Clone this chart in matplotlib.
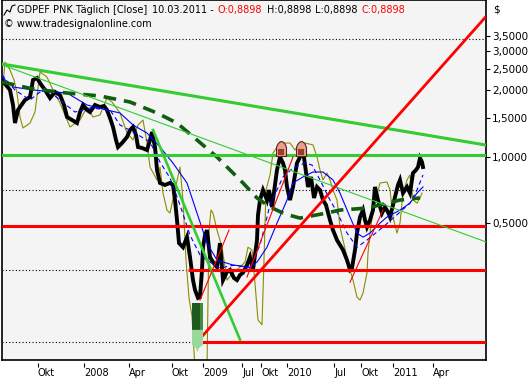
import matplotlib
matplotlib.use("Agg")
import matplotlib.pyplot as plt
from matplotlib.path import Path
from matplotlib.ticker import FixedLocator, NullLocator, NullFormatter

# ---------------- data (bar index on x, price in $ on y) ----------------
black_x = [2,6,10,13,15,18,20,25,30,33,37,40,45,50,55,60,64,67,72,77,80,83,87,90,95,100,104,107,110,113,
           116,118,122,127,130,133,136,138,142,147,150,152,155,157,160,165,170,173,175,177,179,183,187,190,193,195,198,200,202,203,
           205,207,210,213,217,220,223,227,230,234,237,240,243,247,250,253,255,257,258,260,263,265,267,269,272,275,277,280,283,285,
           287,290,293,297,300,303,305,308,311,314,317,320,323,326,330,333,337,340,343,347,350,352,355,357,360,363,365,367,370,373,
           375,378,382,385,388,390,395,398,400,403,407,410,413,416,418,420,422,423]
black_v = [2.221,2.108,2.002,1.713,1.420,1.626,1.677,1.804,1.861,2.221,2.268,2.153,2.002,1.842,1.961,1.900,1.713,1.512,1.465,1.420,
           1.592,1.713,1.626,1.592,1.713,1.677,1.695,1.626,1.496,1.362,1.190,1.106,1.153,1.227,1.320,1.362,1.253,1.106,1.095,1.072,
           1.190,1.293,1.106,0.871,0.761,0.745,0.761,0.745,0.637,0.517,0.407,0.390,0.433,0.352,0.277,0.250,0.230,0.232,0.308,0.390,
           0.442,0.466,0.352,0.334,0.317,0.407,0.277,0.302,0.308,0.283,0.277,0.292,0.299,0.324,0.352,0.308,0.360,0.420,0.545,0.637,
           0.707,0.671,0.637,0.707,0.592,0.745,0.871,0.997,0.936,0.871,0.730,0.637,0.730,0.936,0.997,1.072,0.917,0.730,0.810,0.651,
           0.730,0.707,0.637,0.605,0.517,0.466,0.420,0.399,0.379,0.341,0.308,0.314,0.379,0.452,0.534,0.574,0.517,0.481,0.517,0.574,
           0.730,0.637,0.556,0.592,0.562,0.534,0.657,0.745,0.785,0.685,0.730,0.685,0.844,0.871,0.898,0.986,0.946,0.898]

olive_x = [2,5,10,14,17,20,23,30,35,40, 47,53,60,70,80,87,93,100,107,112,
           120,127,133,138,143,147,150,157,160,163, 167,170,175,180,183,186,189,192,195,207,
           209,211,213,217,222,227,233,240,245,248, 252,255,258,262,264,266,270,273,280,290,
           295,300,305,313,317,320,323,327,330,333, 337,340,343,347,350,353,357,360,363,367,
           368,370,373,380,387,390,393,397,400,403, 407,410,413,417,420,422]
olive_v = [1.861,2.679,2.465,2.221,1.940,1.512,1.348,1.420,1.592,2.414, 2.292,2.002,1.748,1.362,1.465,1.677,1.512,1.544,1.842,1.767,
           1.576,1.279,1.190,1.391,1.465,1.153,0.898,0.785,0.898,0.685, 0.574,0.556,0.707,0.898,0.637,0.341,0.230,0.190,0.110,0.110,
           0.466,0.574,0.556,0.466,0.390,0.277,0.299,0.317,0.334,0.390, 0.379,0.268,0.183,0.174,0.341,0.707,0.827,1.039,1.153,1.153,
           1.072,1.153,1.153,1.130,0.997,0.871,0.785,0.844,0.785,0.707, 0.637,0.481,0.420,0.352,0.308,0.277,0.232,0.225,0.242,0.299,
           0.367,0.452,0.574,0.761,0.769,0.707,0.534,0.452,0.501,0.685, 0.785,0.827,0.637,0.617,0.651,0.685]

blue_x = [2,13,33,67,87,107,120,133,147,160,173,187,197,207,217,233,250,257,267,277,287,293,303,313,323,333,340,350,357,363,
          370,380,387,400,410,417,423]
blue_v = [2.292,2.066,2.002,1.940,1.713,1.626,1.576,1.391,1.279,1.106,0.936,0.761,0.556,0.407,0.341,0.324,0.317,0.334,0.390,0.501,
          0.637,0.761,0.810,0.853,0.853,0.785,0.685,0.534,0.452,0.433,0.452,0.501,0.534,0.574,0.617,0.685,0.730]

bluedash_x = [2,15,30,45,60,75,90,110,120,135,150,160,170,180,190,200,210,220,235,250,260,270,283,293,305,312,320,330,337,347,
              357,367,383,400,410,417,423]
bluedash_v = [2.340,2.002,1.804,2.044,1.804,1.592,1.660,1.626,1.391,1.279,1.166,0.946,0.802,0.605,0.442,0.360,0.334,0.314,0.324,0.314,
              0.399,0.605,0.810,0.889,0.936,0.917,0.785,0.637,0.562,0.452,0.390,0.420,0.481,0.562,0.617,0.707,0.827]

ma_long_x = [2,33,67,100,130,157,177,197,217,230,243,257,270,285,300,327,340,367,400,420]
ma_long_v = [2.176,2.023,1.940,1.881,1.767,1.576,1.420,1.190,0.997,0.871,0.761,0.651,0.593,0.551,0.528,0.557,0.574,0.586,0.637,0.651]

# trend lines: (x0, v0, x1, v1)
green_thick = (2, 2.624, 486, 1.129)
green_thin = (2, 2.600, 486, 0.412)
green_steep = (153, 1.320, 240, 0.149)
red_diag = (198, 0.147, 486, 4.30)
red_thin = [(200, 0.225, 229, 0.466), (247, 0.286, 293, 0.997), (350, 0.271, 383, 0.574)]

# horizontal levels
green_level = 1.023
red_levels = [(2, 0.487), (188, 0.308), (198, 0.1454)]
dotted_levels = [3.40, 0.707, 0.308, 0.1454]

# peak markers and highlight
peak_x = [281, 301]
peak_v = [1.078, 1.078]
box_x = [192, 203]
box_dark = (0.218, 0.165)
box_light_tip = (197.5, 0.131)
box_light_mid = 0.141

# axes
yticks = [0.5, 1.0, 1.5, 2.0, 2.5, 3.0, 3.5]
ytick_labels = ["0,5000", "1,0000", "1,5000", "2,0000", "2,5000", "3,0000", "3,5000"]
xtick_pos = [38, 84, 129, 172, 203, 242, 261, 287, 334, 361, 393, 433]
xtick_labels = ["Okt", "2008", "Apr", "Okt", "2009", "Jul", "Okt", "2010", "Jul", "Okt", "2011", "Apr"]
ylim = (0.1206, 5.107)
xlim = (2, 486)

# title pieces
title_pieces = [("GDPEF PNK Täglich [Close]", 'black'), ("10.03.2011 -", 'black'), ("O:0,8898", '#FF0000'),
                ("H:0,8898", 'black'), ("L:0,8898", 'black'), ("C:0,8898", '#FF0000')]
title_starts = [17, 152, 218, 267]
copyright_text = "© www.tradesignalonline.com"

# ---------------- figure ----------------
plt.rcParams['font.family'] = ['DejaVu Sans']
W, H = 530, 380
fig = plt.figure(figsize=(W / 100, H / 100), dpi=100)
fig.patch.set_facecolor('white')
ax = fig.add_axes([2 / W, 20 / H, 484 / W, 360 / H])
ax.set_facecolor('#F4F4F4')
ax.set_yscale('log')
ax.set_xlim(*xlim)
ax.set_ylim(*ylim)

for s in ax.spines.values():
    s.set_color('black')
    s.set_linewidth(1.2)

# dotted levels
for lv in dotted_levels:
    ax.axhline(lv, color='black', lw=0.8, ls=(0, (1, 2)), zorder=1)

# price and averages
ax.plot(olive_x, olive_v, color='#8C8C00', lw=0.8, zorder=2)
ax.plot(black_x, black_v, color='black', lw=2.8, zorder=3, solid_joinstyle='miter')
ax.plot(blue_x, blue_v, color='#0000FF', lw=0.8, zorder=4)
ax.plot(bluedash_x, bluedash_v, color='#0000FF', lw=0.8, ls=(0, (4, 3)), zorder=4)
ax.plot(ma_long_x, ma_long_v, color='#0E5E0E', lw=2.6, ls=(0, (3.5, 2.2)), zorder=5)

# horizontal lines
ax.axhline(green_level, color='#33CC33', lw=2.2, zorder=6)
for x0, lv in red_levels:
    ax.plot([x0, xlim[1]], [lv, lv], color='#FF0000', lw=2.2, zorder=6, solid_capstyle='butt')

# trend lines
def seg(t, **kw):
    ax.plot([t[0], t[2]], [t[1], t[3]], **kw)

seg(green_thick, color='#33CC33', lw=2.2, zorder=6)
seg(green_thin, color='#33CC33', lw=0.8, zorder=6)
seg(green_steep, color='#33CC33', lw=1.9, zorder=6)
seg(red_diag, color='#FF0000', lw=2.0, zorder=7)
for t in red_thin:
    seg(t, color='#FF0000', lw=0.8, zorder=7)

# highlight box
ax.fill([box_x[0], box_x[1], box_x[1], box_x[0]],
        [box_dark[0], box_dark[0], box_dark[1], box_dark[1]],
        color='#1E5A1E', zorder=8, lw=0)
ax.fill([box_x[1] - 3, box_x[1], box_x[1], box_x[1] - 3],
        [box_dark[0], box_dark[0], box_dark[1], box_dark[1]],
        color='#3E8E3E', zorder=8, lw=0)
ax.fill([box_x[0], box_x[1], box_x[1], box_light_tip[0] + 1.5, box_light_tip[0], box_light_tip[0] - 1.5, box_x[0]],
        [box_dark[1], box_dark[1], box_light_mid, box_light_mid * 0.97, box_light_tip[1], box_light_mid * 0.97, box_light_mid],
        color='#98D898', zorder=8, lw=0)

# peak markers (bullet shapes)
verts = [(0.5, 0.1), (0.5, 0.35), (0.3, 0.75), (0.0, 0.8), (-0.3, 0.75), (-0.5, 0.35), (-0.5, 0.1), (-0.5, -0.7), (0.5, -0.7), (0.5, 0.1)]
codes = [Path.MOVETO, Path.CURVE4, Path.CURVE4, Path.CURVE4, Path.CURVE4, Path.CURVE4, Path.CURVE4, Path.LINETO, Path.LINETO, Path.CLOSEPOLY]
bullet = Path(verts, codes)
ax.plot(peak_x, peak_v, ls='none', marker=bullet, markersize=11.5, markerfacecolor='#E8A08A',
        markeredgecolor='#5A2418', markeredgewidth=0.8, zorder=9)
ax.plot(peak_x, [v * 0.975 for v in peak_v], ls='none', marker='s', markersize=4.5, markerfacecolor='#9A3A28',
        markeredgewidth=0, zorder=9)

# y axis on right
ax.yaxis.tick_right()
ax.yaxis.set_major_locator(FixedLocator(yticks))
ax.set_yticklabels(ytick_labels)
ax.yaxis.set_minor_locator(NullLocator())
ax.yaxis.set_minor_formatter(NullFormatter())
ax.tick_params(axis='y', which='major', length=3, width=0.8, pad=1.5, labelsize=7.5, colors='black')

# x axis
ax.set_xticks(xtick_pos)
ax.set_xticklabels(xtick_labels, ha='left')
ax.tick_params(axis='x', length=0, pad=5.5, labelsize=7)
ax.vlines(xtick_pos, -0.009, -0.019, transform=ax.get_xaxis_transform(), color='black', lw=0.8, clip_on=False)

# $ label
fig.text(493 / W, 1 - 10 / H, '$', fontsize=7.5, ha='left', va='center')

# title
icon_x = [4, 7, 10, 12, 15]
icon_y = [15, 10, 12, 6, 5]
fig.add_artist(plt.Line2D([x / W for x in icon_x], [1 - y / H for y in icon_y], color='black', lw=0.8))
fig.canvas.draw()
r = fig.canvas.get_renderer()
xpix = title_starts[0]
for i, (txt, col) in enumerate(title_pieces):
    if i < len(title_starts):
        xpix = title_starts[i]
    t = fig.text(xpix / W, 1 - 10 / H, txt, fontsize=7, color=col, ha='left', va='center')
    bb = t.get_window_extent(renderer=r)
    xpix += bb.width + 4
fig.text(4 / W, 1 - 24 / H, copyright_text, fontsize=7, color='black', ha='left', va='center')

fig.savefig('out.png', dpi=100)
